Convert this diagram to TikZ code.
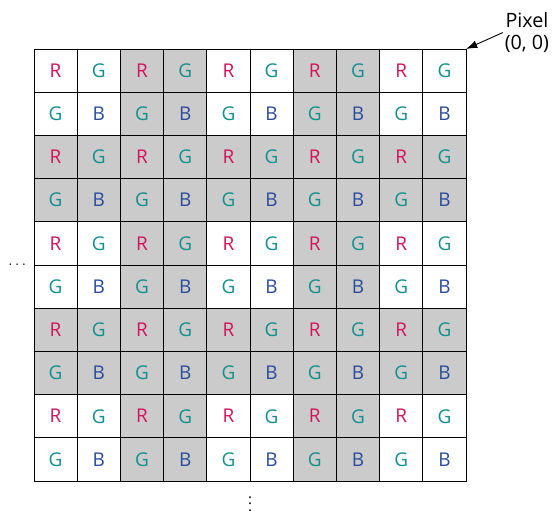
\documentclass[tikz,border=0pt]{standalone}
\usepackage{fontspec}
\setmainfont{Open Sans}
\usetikzlibrary{arrows.meta}
\definecolor{redpx}{HTML}{D2145A}
\definecolor{greenpx}{HTML}{12908E}
\definecolor{bluepx}{HTML}{2B4C9B}
\definecolor{shadepx}{HTML}{CBCBCB}

\begin{document}
\begin{tikzpicture}[line width=0.6pt,
    cell/.style={draw, minimum size=1cm, inner sep=0pt, outer sep=0pt,
                 font=\fontsize{12.5}{14}\selectfont},
    label/.style={font=\fontsize{13}{15}\selectfont, align=center, inner sep=1pt}]
    \useasboundingbox (-0.787,-0.671) rectangle (12.013,11.134);
    % Bayer mosaic, row 1 at the top
    \foreach \r in {1,...,10}{
      \foreach \c in {1,...,10}{
        \pgfmathtruncatemacro{\grey}{or(mod(\r-1,4)>1, mod(\c-1,4)>1)}
        \ifnum\grey=1 \def\bg{shadepx}\else\def\bg{white}\fi
        \ifodd\r
          \ifodd\c \def\px{R}\def\pxcol{redpx}\else\def\px{G}\def\pxcol{greenpx}\fi
        \else
          \ifodd\c \def\px{G}\def\pxcol{greenpx}\else\def\px{B}\def\pxcol{bluepx}\fi
        \fi
        \node[cell, fill=\bg, text=\pxcol] (c-\r-\c) at (\c-0.5,10.5-\r) {\px};
      }
    }
    \node[label] (pixel) at (11.41,10.38) {Pixel\\(0, 0)};
    \coordinate (corner) at (c-1-10.north east);
    \draw[-{Latex[length=2.6mm,width=1.8mm]}] (pixel.west) -- (corner);
    \node (hdots) at (-0.39,5) {$\cdots$};
    \node (vdots) at (5,-0.43) {$\vdots$};
\end{tikzpicture}
\end{document}
